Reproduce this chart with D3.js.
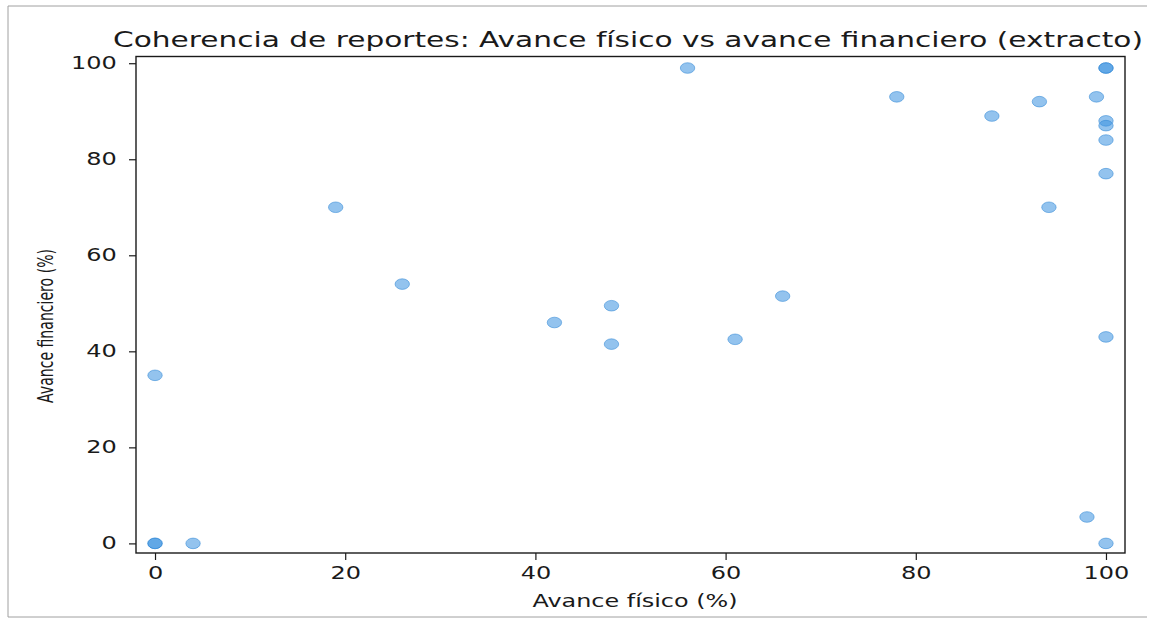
<!DOCTYPE html>
<html>
<head>
<meta charset="utf-8">
<script src="https://cdn.jsdelivr.net/npm/d3@7"></script>
<style>
body { margin: 0; background: #fff; }
text { font-family: 'DejaVu Sans', sans-serif; fill: #1a1a1a; }
</style>
</head>
<body>
<script>
// valores (extracto)
var avanceFisico = [0, 0, 0, 4, 19, 26, 42, 48, 48, 56, 61, 66, 78, 88, 93, 94, 98, 99, 100, 100, 100, 100, 100, 100, 100, 100];
var avanceFinanciero = [0, 0, 35, 0, 70, 54, 46, 49.5, 41.5, 99, 42.5, 51.5, 93, 89, 92, 70, 5.5, 93, 99, 99, 88, 87, 84, 77, 43, 0];
var xTicks = [0, 20, 40, 60, 80, 100];
var yTicks = [0, 20, 40, 60, 80, 100];
var titulo = 'Coherencia de reportes: Avance físico vs avance financiero (extracto)';
var xLabel = 'Avance físico (%)';
var yLabel = 'Avance financiero (%)';

var W = 1149, H = 626;
var stretch = 1.38; // el escaneo esta estirado en horizontal

var svg = d3.select('body').append('svg')
    .attr('width', W).attr('height', H);

svg.append('rect').attr('width', W).attr('height', H).attr('fill', '#fff');

// borde fino de la figura (izq, arriba, abajo)
svg.append('path')
    .attr('d', 'M1147,6 L8,6 L8,617 L1147,617')
    .attr('fill', 'none').attr('stroke', '#a0a0a0').attr('stroke-width', 1);

var x = d3.scaleLinear().domain([-2, 102]).range([136, 1125]);
var y = d3.scaleLinear().domain([-2, 101.4]).range([553, 56.5]);

var data = avanceFisico.map(function(d, i) {
    return { fisico: d, financiero: avanceFinanciero[i] };
});

// puntos
svg.append('g').selectAll('ellipse').data(data).enter()
    .append('ellipse')
    .attr('cx', function(d) { return x(d.fisico); })
    .attr('cy', function(d) { return y(d.financiero); })
    .attr('rx', 7.2).attr('ry', 5.3)
    .attr('fill', '#3a92e0').attr('fill-opacity', 0.55)
    .attr('stroke', '#2f86d6').attr('stroke-opacity', 0.55).attr('stroke-width', 1);

// ejes
var xAxis = svg.append('g').attr('transform', 'translate(0,553)')
    .call(d3.axisBottom(x).tickValues(xTicks).tickSize(7).tickSizeOuter(0).tickPadding(7));
var yAxis = svg.append('g').attr('transform', 'translate(136,0)')
    .call(d3.axisLeft(y).tickValues(yTicks).tickSize(7).tickSizeOuter(0).tickPadding(7));

[xAxis, yAxis].forEach(function(ax) {
    ax.select('.domain').remove();
    ax.selectAll('line').attr('stroke', '#1a1a1a').attr('stroke-width', 1.2);
    ax.selectAll('text')
        .style('font-family', "'DejaVu Sans', sans-serif")
        .style('font-size', '17.4px')
        .attr('fill', '#1a1a1a')
        .attr('transform', 'scale(' + stretch + ',1)');
});

// marco
svg.append('rect')
    .attr('x', 136).attr('y', 56.5).attr('width', 1125 - 136).attr('height', 553 - 56.5)
    .attr('fill', 'none').attr('stroke', '#1a1a1a').attr('stroke-width', 1.4);

// titulo y etiquetas
svg.append('text')
    .attr('x', 628).attr('y', 47)
    .attr('text-anchor', 'middle')
    .style('font-size', '21px')
    .attr('textLength', 1030).attr('lengthAdjust', 'spacingAndGlyphs')
    .text(titulo);

svg.append('text')
    .attr('x', 635).attr('y', 607)
    .attr('text-anchor', 'middle')
    .style('font-size', '17px')
    .attr('textLength', 205).attr('lengthAdjust', 'spacingAndGlyphs')
    .text(xLabel);

svg.append('text')
    .attr('transform', 'translate(53,326) scale(' + stretch + ',1) rotate(-90)')
    .attr('text-anchor', 'middle')
    .style('font-size', '16px')
    .attr('textLength', 154).attr('lengthAdjust', 'spacingAndGlyphs')
    .text(yLabel);
</script>
</body>
</html>
